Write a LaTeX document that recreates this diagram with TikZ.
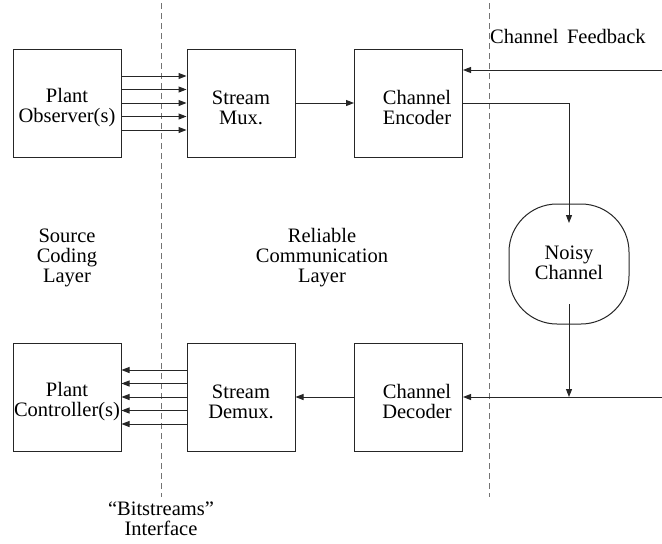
\documentclass[tikz,border=0pt]{standalone}
\usepackage{fontspec}
\setmainfont{Liberation Serif}
\usetikzlibrary{arrows.meta}
\tikzset{
  blk/.style={draw=black!85, line width=1pt, minimum width=108pt, minimum height=108pt, inner sep=0pt},
  lbl/.style={align=center, inner sep=0pt},
  conn/.style={line width=1pt, draw=black!85},
  arr/.style={conn, -{Triangle[length=8pt,width=6pt]}},
  sep/.style={draw=black!55, line width=1pt, dash pattern=on 6pt off 4pt},
}
\begin{document}
\begin{tikzpicture}[x=1pt,y=-1pt, font=\fontsize{20.5}{20}\selectfont]
\useasboundingbox (0,0) rectangle (662,544);
% separators
\draw[sep] (161,3) -- (161,497);
\draw[sep] (489,3) -- (489,497);
% blocks
\node[blk] (obs) at (67,103) {};
\node[blk] (mux) at (241,103) {};
\node[blk] (enc) at (408.5,103) {};
\node[blk] (ctl) at (67,397) {};
\node[blk] (dmx) at (241,397) {};
\node[blk] (dec) at (408.5,397) {};
\node[draw=black!85, line width=1pt, rounded corners=48pt, minimum width=120pt, minimum height=120pt] (noisy) at (569,264) {};
% block texts
\node[lbl] (obst) at (67,108) {Plant\\Observer(s)};
\node[lbl] (muxt) at (241,108) {Stream\\Mux.};
\node[lbl] (enct) at (417,107) {Channel\\Encoder};
\node[lbl] (ctlt) at (67,402) {Plant\\Controller(s)};
\node[lbl] (dmxt) at (241,402) {Stream\\Demux.};
\node[lbl] (dect) at (417,401) {Channel\\Decoder};
\node[lbl] (noisyt) at (569,263) {Noisy\\Channel};
% labels
\node[lbl] (src) at (67,258) {Source\\Coding\\Layer};
\node[lbl] (rel) at (322,258) {Reliable\\Communication\\Layer};
\node[lbl, anchor=west] (fb) at (490,36) {Channel\, Feedback};
\node[lbl] (bits) at (161,519) {``Bitstreams''\\Interface};
% bitstreams
\foreach \yy in {-27,-13.5,0,13.5,27} {
  \draw[arr] ([yshift=-\yy pt]obs.east) -- ([yshift=-\yy pt]mux.west);
  \draw[arr] ([yshift=-\yy pt]dmx.west) -- ([yshift=-\yy pt]ctl.east);
}
\draw[arr] (mux.east) -- (enc.west);
\draw[arr] (dec.west) -- (dmx.east);
% channel
\coordinate (fbin) at (662,70);
\coordinate (chin) at (662,397);
\coordinate (turn) at (569,103);
\coordinate (ntop) at (569,223);
\coordinate (nbot) at (569,304);
\coordinate (join) at (569,397);
\draw[arr] (fbin) -- (fbin -| enc.east);
\draw[conn] (enc.east) -- (turn);
\draw[arr] (turn) -- (ntop);
\draw[arr] (nbot) -- (join);
\draw[arr] (chin) -- (dec.east);
\end{tikzpicture}
\end{document}
